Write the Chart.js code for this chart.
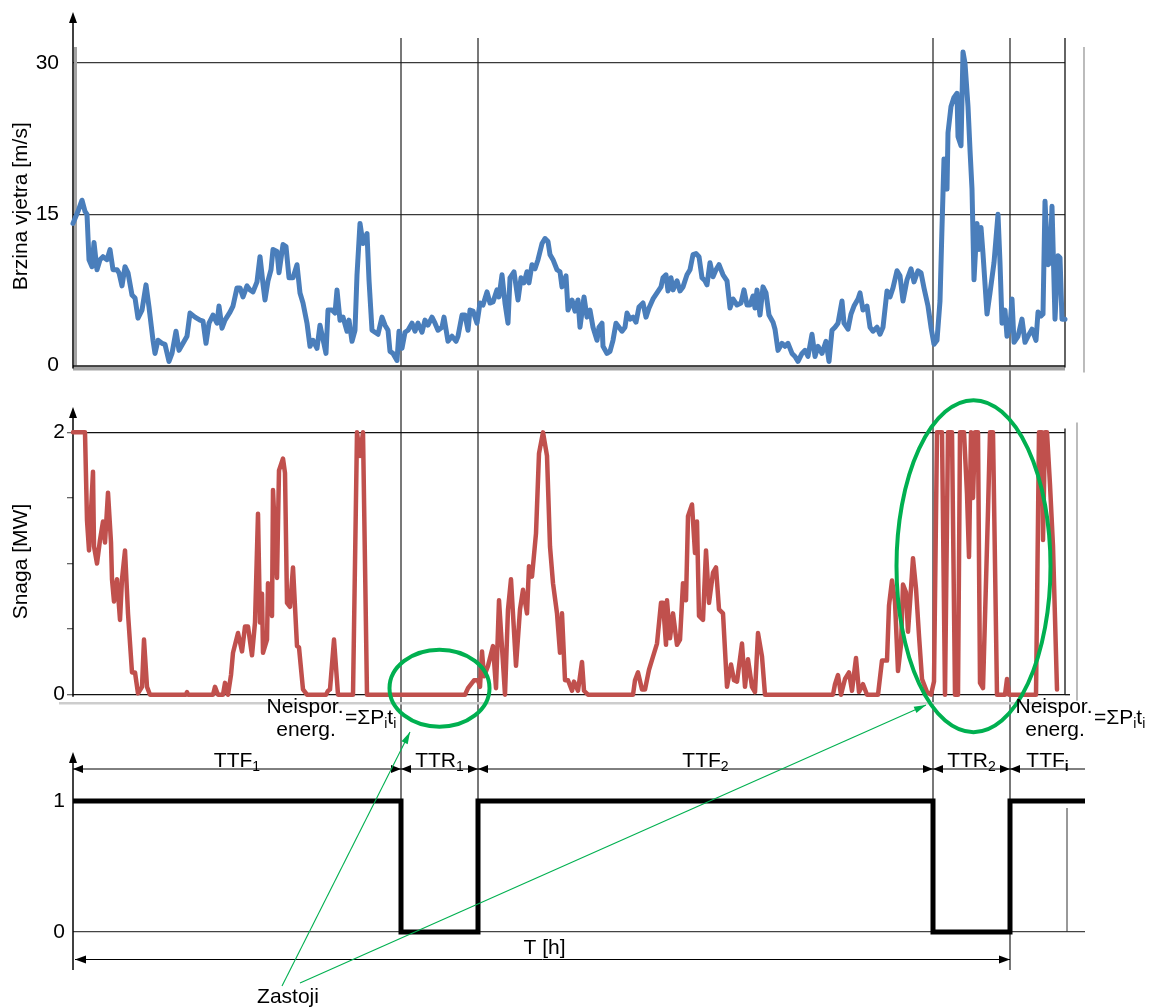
<!DOCTYPE html>
<html>
<head>
<meta charset="utf-8">
<script src="https://cdn.jsdelivr.net/npm/chart.js@4.4.1/dist/chart.umd.min.js"></script>
<style>
  html, body { margin: 0; padding: 0; background: #fff; }
  #wrap { position: relative; width: 1153px; height: 1008px; }
  #wrap canvas { position: absolute; left: 0; top: 0; }
</style>
</head>
<body>
<div id="wrap">
  <canvas id="windChart" width="1153" height="1008"></canvas>
  <canvas id="powerChart" width="1153" height="1008"></canvas>
  <canvas id="stateChart" width="1153" height="1008"></canvas>
</div>
<script>
// ---- data (time in hours) ----
const windHours = [0,5,9,12,14,16,19,21,24,27,30,34,37,40,44,46,49,52,55,59,62,65,69,73,76,80,82,85,89,92,96,99,103,106,110,114,117,122,127,130,133,136,140,144,146,149,152,157,160,164,167,170,174,177,180,184,187,190,192,195,198,200,204,206,210,213,216,220,224,227,230,234,237,240,244,247,250,253,255,259,262,264,267,270,274,276,279,282,284,287,290,294,296,299,302,305,309,312,315,317,320,324,326,329,332,335,339,342,345,349,352,355,359,362,365,369,371,375,379,383,385,389,392,395,397,400,404,407,410,414,417,420,424,426,429,432,435,437,441,445,448,451,454,456,459,462,465,469,472,475,477,480,484,487,489,493,495,499,502,505,507,511,514,517,520,524,526,529,530,534,537,540,543,546,549,552,554,557,560,563,566,570,573,576,580,584,588,590,593,595,598,600,604,607,610,614,617,620,623,626,629,632,634,637,640,643,646,650,654,657,660,664,668,671,674,677,680,682,684,687,690,693,696,700,702,705,709,712,715,719,722,725,729,732,735,739,742,745,749,753,756,759,762,765,769,771,775,778,781,785,787,790,794,797,800,804,807,810,814,817,820,824,827,830,834,838,841,845,848,851,855,858,861,864,867,869,871,874,875,878,881,884,885,888,890,892,895,897,899,901,904,906,908,910,914,917,921,925,927,929,932,934,937,939,941,945,949,952,955,959,963,965,968,970,972,975,977,979,982,985,987,989,992];
const windSpeed = [14.1,15.3,16.4,15.3,15.0,10.5,9.8,12.2,9.5,10.5,10.8,10.5,11.5,9.5,9.5,9.2,7.9,9.8,9.2,7.0,6.7,4.7,5.5,8.0,5.8,2.5,1.2,2.5,2.2,2.1,0.4,1.2,3.4,1.5,2.2,2.9,5.2,4.8,4.5,4.4,2.2,4.2,5.0,4.2,5.9,3.7,4.5,5.3,5.9,7.7,7.7,6.8,7.9,7.5,7.3,8.3,10.8,8.1,6.5,8.4,9.5,11.5,11.3,9.2,12.0,11.8,8.7,8.7,10.0,7.2,6.2,4.2,1.9,2.5,1.7,4.0,2.6,1.2,5.5,5.5,5.2,7.5,4.5,4.8,3.4,4.5,2.4,3.5,9.0,14.1,12.1,13.1,8.5,3.5,3.3,3.1,4.8,4.0,3.5,1.4,1.2,0.5,3.4,1.7,3.3,3.5,4.2,3.4,4.2,3.3,4.5,4.0,4.8,4.2,3.5,3.8,4.8,2.4,2.9,2.4,2.9,5.0,5.0,3.5,5.5,5.4,4.2,6.2,6.0,7.3,6.2,6.3,7.5,6.8,9.0,6.2,4.2,8.7,9.3,6.5,8.7,8.2,9.3,8.2,10.0,9.6,10.5,12.1,12.6,12.3,11.0,10.5,9.5,9.3,7.8,8.9,5.5,6.5,5.4,6.5,3.8,6.8,4.8,5.5,3.8,2.5,3.8,4.2,1.9,1.2,1.4,2.5,4.2,3.8,3.4,3.8,5.2,4.6,4.8,4.3,5.8,6.2,4.8,5.7,6.6,7.2,7.8,8.7,9.0,7.4,8.7,7.5,8.4,7.4,7.8,9.0,9.5,11.0,11.1,10.8,8.7,8.4,8.0,10.2,8.8,9.5,10.0,9.0,8.4,5.7,6.6,6.0,6.2,7.5,6.0,6.0,6.9,5.7,7.5,5.0,7.8,7.2,5.0,4.3,3.6,1.5,2.2,1.9,2.2,1.2,0.9,0.4,1.2,1.5,0.9,3.1,0.9,1.9,1.2,2.4,0.4,3.5,3.8,4.2,6.4,4.2,3.6,5.1,5.9,6.6,7.2,5.5,5.9,3.8,3.4,3.8,3.1,3.8,7.4,6.8,7.7,9.4,8.9,6.4,8.5,9.6,8.3,9.4,9.2,7.7,5.9,3.8,2.1,2.5,6.4,13.7,20.5,17.5,23.1,25.7,26.6,27.0,22.7,21.8,31.1,30.0,25.7,21.4,17.5,8.5,14.1,11.5,13.7,11.1,5.1,7.2,10.2,15.0,10.2,4.2,5.5,2.9,3.8,6.6,2.3,2.9,4.6,2.3,2.9,3.6,2.5,5.3,4.9,5.1,16.3,10.0,10.2,15.8,4.6,10.9,10.7,4.6,4.6];

const powerHours = [0,12,14,16,20,21,24,27,30,32,35,38,39,41,44,47,49,52,55,59,62,65,69,71,74,77,113,114,115,140,142,145,150,152,155,158,160,165,169,172,175,179,182,185,187,189,190,194,195,199,200,204,206,210,212,214,217,220,224,226,230,234,253,255,257,261,265,280,284,287,290,294,392,395,401,405,407,409,411,415,420,423,426,432,435,438,443,447,450,454,456,459,463,466,470,474,477,480,484,487,489,492,495,499,501,505,509,511,515,560,562,565,569,572,576,580,584,588,590,593,594,597,600,604,607,610,613,615,619,622,624,626,630,633,636,640,643,646,650,654,658,661,664,669,672,675,679,682,685,689,692,760,762,765,768,772,776,779,783,786,790,794,805,809,814,816,819,822,825,828,830,833,835,838,840,843,846,849,854,858,861,864,869,872,875,879,882,885,887,891,894,896,898,900,902,905,907,910,915,917,920,924,932,934,936,963,966,969,970,972,974,977,980,984];
const powerMW = [2.0,2.0,1.33,1.1,1.7,1.13,1.0,1.18,1.32,1.16,1.54,1.16,0.88,0.71,0.88,0.57,0.88,1.1,0.62,0.17,0.17,0.01,0.06,0.42,0.06,0,0,0.02,0,0,0.06,0,0,0.09,0,0.15,0.32,0.47,0.33,0.52,0.52,0.3,0.55,1.38,0.55,0.77,0.32,0.42,0.85,0.6,1.56,0.89,1.71,1.8,1.69,0.7,0.67,0.97,0.37,0.36,0.04,0,0,0.03,0.04,0.42,0,0,2.0,1.82,2.0,0,0,0.05,0.11,0.11,0.06,0.33,0.14,0.22,0.37,0.05,0.72,0,0.65,0.88,0.22,0.65,0.8,0.62,0.98,0.9,1.23,1.84,2.0,1.82,1.13,0.85,0.62,0.32,0.62,0.11,0.11,0.03,0.1,0.03,0.25,0.03,0,0,0.11,0.17,0.04,0.04,0.19,0.29,0.39,0.7,0.7,0.38,0.72,0.43,0.62,0.38,0.42,0.85,0.72,1.36,1.45,1.08,1.32,0.6,0.57,1.1,0.7,0.93,0.97,0.65,0.62,0.06,0.23,0.11,0.1,0.39,0.06,0.27,0.06,0.02,0.47,0.29,0,0,0.08,0.15,0,0.12,0.17,0.03,0.28,0.02,0.08,0,0,0.26,0.26,0.68,0.87,0.71,0.18,0.38,0.84,0.78,0.48,0.81,1.04,0.81,0.45,0.12,0.02,0,0.1,2.0,2.0,0,2.0,2.0,0,0,2.0,2.0,1.53,1.05,2.0,1.5,2.0,2.0,0.09,0.05,1.4,2.0,2.0,0,0,0.12,0,0,2.0,2.0,1.18,2.0,2.0,1.6,1.13,0.04];

const failureHours = [328, 860];
const repairHours = [405, 937];
const endHour = 1012;
const stateValues = [1, 0, 1, 0, 1, 1];
const periodNames = [['TTF', '1'], ['TTR', '1'], ['TTF', '2'], ['TTR', '2'], ['TTF', 'i']];
const windTicks = [0, 15, 30];
const powerTicks = [0, 0.5, 1, 1.5, 2];
const stateTicks = [0, 1];

// ---- layout ----
const FONT = '"Liberation Sans", Arial, Helvetica, sans-serif';
const FS = 21;
const W = 1153, H = 1008;
const AXIS_W = 73;
const BOX = {
  wind:  { top: 47,    bottom: 365.5, right: 1065 },
  power: { top: 428.4, bottom: 694.7, right: 1065 },
  state: { top: 801,   bottom: 932,   right: 1085 }
};
const GREEN = '#00B050';

Chart.defaults.font.family = FONT;
Chart.defaults.color = '#000';

function line(ctx, x1, y1, x2, y2, color, width) {
  ctx.beginPath();
  ctx.moveTo(x1, y1);
  ctx.lineTo(x2, y2);
  ctx.strokeStyle = color;
  ctx.lineWidth = width;
  ctx.stroke();
}

function head(ctx, tx, ty, fx, fy, color, len, half) {
  const a = Math.atan2(ty - fy, tx - fx);
  ctx.save();
  ctx.translate(tx, ty);
  ctx.rotate(a);
  ctx.beginPath();
  ctx.moveTo(0, 0);
  ctx.lineTo(-len, -half);
  ctx.lineTo(-len, half);
  ctx.closePath();
  ctx.fillStyle = color;
  ctx.fill();
  ctx.restore();
}

// parts: [text, size, dy, weight]
function richText(ctx, parts, x, y, align) {
  let total = 0;
  parts.forEach(p => {
    ctx.font = (p[3] || '') + ' ' + p[1] + 'px ' + FONT;
    total += ctx.measureText(p[0]).width;
  });
  let cx = align === 'center' ? x - total / 2 : align === 'right' ? x - total : x;
  ctx.textAlign = 'left';
  ctx.textBaseline = 'alphabetic';
  ctx.fillStyle = '#000';
  parts.forEach(p => {
    ctx.font = (p[3] || '') + ' ' + p[1] + 'px ' + FONT;
    ctx.fillText(p[0], cx, y + (p[2] || 0));
    cx += ctx.measureText(p[0]).width;
  });
}

function yAxis(ctx, x, bottom, tip) {
  line(ctx, x, bottom, x, tip + 8, '#000', 1.5);
  head(ctx, x, tip, x, tip + 20, '#000', 11, 4);
}

function makePanel(id, box, xMax, yMax, ticks, dataset, yOpts, plugin) {
  return new Chart(document.getElementById(id), {
    type: 'line',
    data: { datasets: [dataset] },
    options: {
      responsive: false,
      animation: false,
      events: [],
      layout: { padding: { left: 0, top: box.top, right: W - box.right, bottom: H - box.bottom } },
      plugins: { legend: { display: false }, tooltip: { enabled: false } },
      scales: {
        x: { type: 'linear', min: 0, max: xMax, display: false },
        y: Object.assign({
          min: 0,
          max: yMax,
          afterBuildTicks: ax => { ax.ticks = ticks.map(v => ({ value: v })); },
          afterFit: ax => { ax.width = AXIS_W; },
          border: { display: false }
        }, yOpts)
      }
    },
    plugins: [plugin]
  });
}

function series(xs, ys, color, width, extra) {
  return Object.assign({
    data: xs.map((h, i) => ({ x: h, y: ys[i] })),
    borderColor: color,
    borderWidth: width,
    pointRadius: 0,
    tension: 0,
    fill: false,
    clip: false,
    borderJoinStyle: 'round',
    borderCapStyle: 'round'
  }, extra || {});
}

// ---- wind speed ----
const windDeco = {
  id: 'windDeco',
  beforeDatasetsDraw(chart) {
    const { ctx, chartArea: a, scales: { x } } = chart;
    ctx.save();
    const events = [failureHours[0], repairHours[0], failureHours[1], repairHours[1]];
    events.forEach((h, i) => {
      const px = x.getPixelForValue(h);
      line(ctx, px, 38, px, i === 3 ? 970 : BOX.state.top, '#1e1e1e', 1.2);
    });
    line(ctx, a.left + 2.5, a.top, a.left + 2.5, a.bottom + 4, '#a3a3a3', 3);
    line(ctx, a.left, a.bottom + 2.5, a.right, a.bottom + 2.5, '#a3a3a3', 5);
    line(ctx, a.left, a.bottom + 0.5, a.right, a.bottom + 0.5, '#222', 1.6);
    line(ctx, a.right, 38, a.right, a.bottom + 2, '#111', 1.3);
    line(ctx, a.right + 19, a.top, a.right + 19, a.bottom + 7, '#ababab', 1.6);
    yAxis(ctx, a.left, a.bottom + 3, 12);
    ctx.restore();
  }
};

const windChart = makePanel('windChart', BOX.wind, 992, 31.6, windTicks,
  series(windHours, windSpeed, '#4A7EBB', 5),
  {
    grid: { color: c => c.tick && c.tick.value === 0 ? 'transparent' : '#3a3a3a', lineWidth: 1.3, drawTicks: false },
    ticks: { padding: 14, font: { size: FS }, color: '#000' },
    title: { display: true, text: 'Brzina vjetra [m/s]', font: { size: FS }, color: '#000', padding: { top: 9, bottom: 0 } }
  },
  windDeco);

// ---- power ----
const powerDeco = {
  id: 'powerDeco',
  beforeDatasetsDraw(chart) {
    const { ctx, chartArea: a } = chart;
    ctx.save();
    line(ctx, 59, a.bottom + 8.5, a.right, a.bottom + 8.5, '#cdcdcd', 2.5);
    line(ctx, a.right, a.top, a.right, a.bottom, '#111', 1.3);
    line(ctx, a.right + 12, a.top - 6, a.right + 12, a.bottom + 6, '#ababab', 1.6);
    line(ctx, a.right, a.bottom, a.right + 5, a.bottom, '#111', 1.3);
    yAxis(ctx, a.left, a.bottom + 2, 407);
    ctx.restore();
  },
  afterDatasetsDraw(chart) {
    const { ctx, scales: { x, y } } = chart;
    ctx.save();
    ctx.strokeStyle = GREEN;
    ctx.lineWidth = 4;
    // small ellipse around first repair, large around second
    const e1x = (x.getPixelForValue(failureHours[0]) + x.getPixelForValue(repairHours[0])) / 2;
    ctx.beginPath();
    ctx.ellipse(e1x, y.getPixelForValue(0.05), 50, 38.5, 0, 0, Math.PI * 2);
    ctx.stroke();
    const e2x = (x.getPixelForValue(failureHours[1]) + x.getPixelForValue(repairHours[1])) / 2 + 2;
    ctx.beginPath();
    ctx.ellipse(e2x, y.getPixelForValue(0.98), 77, 166, 0, 0, Math.PI * 2);
    ctx.stroke();
    ctx.restore();
  }
};

const powerChart = makePanel('powerChart', BOX.power, 992, 2.03, powerTicks,
  series(powerHours, powerMW, '#C0504D', 4.5),
  {
    grid: {
      color: c => c.tick && (c.tick.value === 0 || c.tick.value === 2) ? '#111' : 'transparent',
      tickColor: '#666',
      tickLength: 6,
      lineWidth: 1.3,
      drawTicks: true
    },
    ticks: { padding: 2, font: { size: FS }, color: '#000', callback: v => (v === 0 || v === 2) ? String(v) : '' },
    title: { display: true, text: 'Snaga [MW]', font: { size: FS }, color: '#000', padding: { top: 9, bottom: 0 } }
  },
  powerDeco);

// ---- availability state ----
const stateHours = [0, failureHours[0], repairHours[0], failureHours[1], repairHours[1], endHour];

const stateDeco = {
  id: 'stateDeco',
  beforeDatasetsDraw(chart) {
    const { ctx, chartArea: a, scales: { x } } = chart;
    ctx.save();
    yAxis(ctx, a.left, 970, 752);
    line(ctx, x.getPixelForValue(994), 808, x.getPixelForValue(994), a.bottom, '#333', 1);

    // period dimension arrows
    const bounds = [0, failureHours[0], repairHours[0], failureHours[1], repairHours[1], endHour].map(h => x.getPixelForValue(h));
    const dimY = 769;
    for (let i = 0; i < 5; i++) {
      const l = bounds[i], r = bounds[i + 1];
      line(ctx, l, dimY, r, dimY, '#000', 1);
      head(ctx, l, dimY, l + 20, dimY, '#000', 10, 4);
      if (i < 4) head(ctx, r, dimY, r - 20, dimY, '#000', 10, 4);
      const nm = periodNames[i];
      richText(ctx, [[nm[0], FS], [nm[1], 14, 4, nm[1] === 'i' ? 'bold' : '']], (l + r) / 2, dimY - 2, 'center');
    }

    // total time
    const tY = 959.5;
    const t0 = x.getPixelForValue(0) + 2, t1 = x.getPixelForValue(repairHours[1]);
    line(ctx, t0, tY, t1, tY, '#000', 1);
    head(ctx, t0, tY, t0 + 20, tY, '#000', 11, 4);
    head(ctx, t1, tY, t1 - 20, tY, '#000', 11, 4);
    richText(ctx, [['T [h]', FS]], (t0 + t1) / 2 + 2, 954, 'center');
    ctx.restore();
  },
  afterDraw(chart) {
    const { ctx, scales: { x } } = chart;
    ctx.save();
    // unsupplied energy labels
    const groups = [x.getPixelForValue(failureHours[0]) - 96, x.getPixelForValue(repairHours[1]) + 44];
    groups.forEach(cx => {
      richText(ctx, [['Neispor.', FS]], cx, 713, 'center');
      richText(ctx, [['energ.', FS]], cx + 1, 736, 'center');
      richText(ctx, [['=\u03A3P', FS], ['i', 14, 4], ['t', FS], ['i', 14, 4]], cx + 40, 724, 'left');
    });

    // downtime pointers
    const g1 = { x: 282, y: 986 }, g2 = { x: 300, y: 983 };
    const tip1 = { x: x.getPixelForValue(failureHours[0]) + 9, y: 732 };
    const tip2 = { x: x.getPixelForValue(failureHours[1]) - 7, y: 705 };
    line(ctx, g1.x, g1.y, tip1.x, tip1.y, GREEN, 1.1);
    head(ctx, tip1.x, tip1.y, g1.x, g1.y, GREEN, 12, 3.5);
    line(ctx, g2.x, g2.y, tip2.x, tip2.y, GREEN, 1.1);
    head(ctx, tip2.x, tip2.y, g2.x, g2.y, GREEN, 12, 3.5);
    richText(ctx, [['Zastoji', FS]], 288, 1003, 'center');
    ctx.restore();
  }
};

const stateChart = makePanel('stateChart', BOX.state, endHour, 1, stateTicks,
  series(stateHours, stateValues, '#000', 5, { stepped: true, borderJoinStyle: 'miter', borderCapStyle: 'butt' }),
  {
    grid: { color: c => c.tick && c.tick.value === 0 ? '#444' : 'transparent', lineWidth: 1.2, drawTicks: false },
    ticks: { padding: 8, font: { size: FS }, color: '#000' }
  },
  stateDeco);
</script>
</body>
</html>
